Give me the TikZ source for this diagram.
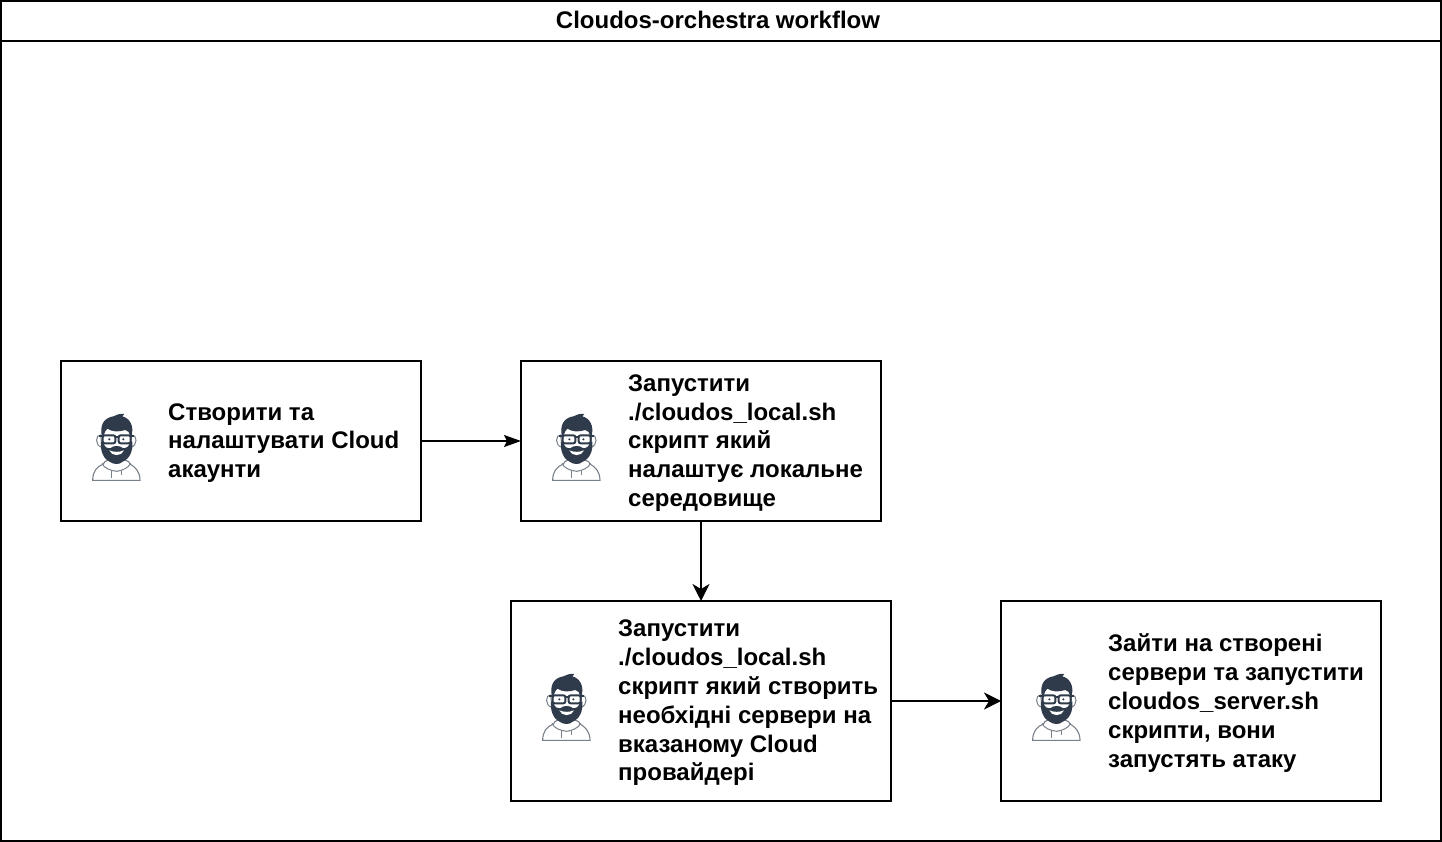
\documentclass[tikz,border=0pt]{standalone}
\usepackage{fontspec}
\setmainfont{Liberation Sans}
\usetikzlibrary{arrows.meta}
\definecolor{ink}{HTML}{2F3B4A}
\tikzset{
  boxnode/.style={draw=black,line width=2pt,fill=white,minimum width=#1,inner sep=0pt,outer sep=0pt},
  lbl/.style={anchor=west,align=left,inner sep=0pt,font=\fontsize{24}{28.8}\selectfont\bfseries},
  flow/.style={line width=2pt,-{Stealth[length=17pt,width=12pt,inset=3pt]}},
  flowb/.style={line width=2pt,-{Stealth[length=17pt,width=17pt,inset=5pt]}},
  person/.pic={
    \begin{scope}[x=0.3333pt,y=-0.3333pt]
      % hoodie
      \draw[draw=ink!65,line width=1.1pt,fill=white] (38,241) .. controls (38,215) and (50,200) .. (70,192) .. controls (75,180) and (85,178) .. (110,180) .. controls (135,178) and (148,182) .. (150,192) .. controls (165,200) and (180,215) .. (180,241) -- cycle;
      \draw[draw=ink!65,line width=1pt] (66,190) .. controls (72,205) and (92,212) .. (110,214) .. controls (125,212) and (145,205) .. (152,190);
      \draw[draw=ink!65,line width=1pt] (95,212) -- (95,234) (125,212) -- (125,226);
      % ears
      \draw[draw=ink!65,line width=1pt,fill=white] (62,105) .. controls (46,103) and (44,138) .. (66,142) -- cycle;
      \draw[draw=ink!65,line width=1pt,fill=white] (155,105) .. controls (172,103) and (174,138) .. (152,142) -- cycle;
      % face
      \fill[white] (68,90) rectangle (152,150);
      % hair
      \fill[ink] (65,106) .. controls (60,76) and (70,54) .. (100,49) .. controls (110,44) and (120,40) .. (133,42) .. controls (129,46) and (129,46) .. (127,49) .. controls (150,55) and (162,78) .. (155,106) -- (149,104) .. controls (149,98) and (144,92) .. (136,90) .. controls (115,97) and (95,95) .. (82,86) .. controls (76,92) and (73,98) .. (72,104) -- cycle;
      % beard
      \fill[ink] (63,125) -- (70,128) .. controls (74,142) and (82,146) .. (92,144) .. controls (100,136) and (120,136) .. (128,144) .. controls (138,146) and (147,140) .. (150,128) -- (157,125) .. controls (160,155) and (147,178) .. (127,186) .. controls (117,195) and (100,193) .. (90,186) .. controls (72,178) and (60,155) .. (63,125) -- cycle;
      \fill[white] (88,151) .. controls (100,157) and (120,157) .. (132,151) .. controls (126,170) and (94,170) .. (88,151) -- cycle;
      % glasses
      \draw[ink,line width=2pt,rounded corners=2pt] (68,106) rectangle (106,130);
      \draw[ink,line width=2pt,rounded corners=2pt] (116,106) rectangle (152,130);
      \draw[ink,line width=2pt] (106,111) -- (116,111) (56,108) -- (68,108) (152,108) -- (162,108);
      \fill[ink] (88,118) circle (3.5) (130,118) circle (3.5);
    \end{scope}
  }
}
\begin{document}
\begin{tikzpicture}[x=1pt,y=-1pt]
\useasboundingbox (0,0) rectangle (1442,842);
\fill[white] (0,0) rectangle (1442,842);
\node[draw=black,line width=2pt,minimum width=1440pt,minimum height=840pt,inner sep=0pt] (frame) at (721,421) {};
\node[draw=black,line width=2pt,minimum width=1440pt,minimum height=40pt,inner sep=0pt] (title) at (721,21) {};
\node[inner sep=0pt,font=\fontsize{24}{28.8}\selectfont\bfseries] (titletext) at (718,20) {Cloudos-orchestra workflow};
\node[boxnode=360pt,minimum height=160pt] (a) at (241,441) {};
\node[boxnode=360pt,minimum height=160pt] (b) at (701,441) {};
\node[boxnode=380pt,minimum height=200pt] (c) at (701,701) {};
\node[boxnode=380pt,minimum height=200pt] (d) at (1191,701) {};
\pic (pa) at (80,400) {person};
\pic (pb) at (540,400) {person};
\pic (pc) at (530,660) {person};
\pic (pd) at (1020,660) {person};
\node[lbl] (ta) at (168,443) {Створити та\\налаштувати Cloud\\акаунти};
\node[lbl] (tb) at (628,443) {Запустити\\./cloudos\_local.sh\\скрипт який\\налаштує локальне\\середовище};
\node[lbl] (tc) at (618,703) {Запустити\\./cloudos\_local.sh\\скрипт який створить\\необхідні сервери на\\вказаному Cloud\\провайдері};
\node[lbl] (td) at (1108,703) {Зайти на створені\\сервери та запустити\\cloudos\_server.sh\\скрипти, вони\\запустять атаку};
\draw[flow] (a) -- (b);
\draw[flowb] (b) -- (c);
\draw[flowb] (c) -- (d);
\end{tikzpicture}
\end{document}
